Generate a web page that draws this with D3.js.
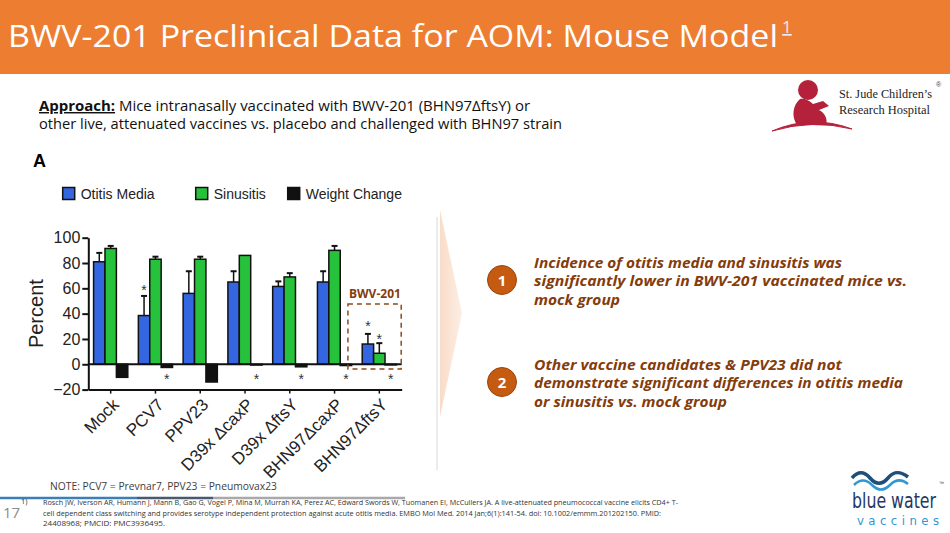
<!DOCTYPE html>
<html>
<head>
<meta charset="utf-8">
<script src="https://cdn.jsdelivr.net/npm/d3@7"></script>
<style>
  body { margin: 0; background: #fff; }
  svg { display: block; }
</style>
</head>
<body>
<div id="chart"></div>
<script>
// values (percent)
const groups = ["Mock", "PCV7", "PPV23", "D39x ΔcaxP", "D39x ΔftsY", "BHN97ΔcaxP", "BHN97ΔftsY"];
const seriesNames = ["Otitis Media", "Sinusitis", "Weight Change"];
const otitisMedia = [81, 38.5, 56, 65, 61.5, 65, 16];
const otitisErr = [7, 15.5, 17.5, 8.5, 4, 8.5, 8];
const sinusitis = [91.5, 83, 83, 86, 69, 90, 8.7];
const sinusitisErr = [2, 2, 2, 0, 3, 3.5, 8];
const weightChange = [-10.3, -2.5, -14, -0.6, -2, -1, -0.5];
const starOtitis = [null, 61, null, null, null, null, 33];
const starSinusitis = [null, null, null, null, null, null, 22];
const starWeight = [null, -9.5, null, -9.5, -9.5, -9.5, -9.5];
const yTicks = [-20, 0, 20, 40, 60, 80, 100];

const colors = { "Otitis Media": "#3366e0", "Sinusitis": "#27c23c", "Weight Change": "#111111" };

const W = 950, H = 533;
const svg = d3.select("#chart").append("svg").attr("width", W).attr("height", H);

// ---- header
svg.append("rect").attr("x", 0).attr("y", 0).attr("width", W).attr("height", 74).attr("fill", "#ed7d31");
svg.append("text")
  .attr("x", 8).attr("y", 47)
  .attr("font-family", "'Open Sans', sans-serif").attr("font-size", 31)
  .attr("fill", "#fff")
  .attr("textLength", 770).attr("lengthAdjust", "spacingAndGlyphs")
  .text("BWV-201 Preclinical Data for AOM: Mouse Model");
svg.append("text")
  .attr("x", 782).attr("y", 33)
  .attr("font-family", "'Open Sans', sans-serif").attr("font-size", 17)
  .attr("fill", "#e8ecf4").attr("text-decoration", "underline")
  .text("1");

// ---- approach text
const approach = svg.append("g").attr("font-family", "'Open Sans', sans-serif").attr("font-size", 14.5).attr("fill", "#111");
const l1 = approach.append("text").attr("x", 39).attr("y", 111)
  .attr("textLength", 491).attr("lengthAdjust", "spacingAndGlyphs");
l1.append("tspan").attr("font-weight", "bold").attr("text-decoration", "underline").text("Approach:");
l1.append("tspan").text(" Mice intranasally vaccinated with BWV-201 (BHN97ΔftsY) or");
approach.append("text").attr("x", 39).attr("y", 128.5)
  .attr("textLength", 523).attr("lengthAdjust", "spacingAndGlyphs")
  .text("other live, attenuated vaccines vs. placebo and challenged with BHN97 strain");

// ---- St. Jude logo
const sj = svg.append("g");
sj.append("circle").attr("cx", 808).attr("cy", 90).attr("r", 10).attr("fill", "#b5213a");
sj.append("path")
  .attr("d", "M800,99 C793,105 791,116 797,125 L826,125 C828,119 825,113 819,110 L829,106 L823,101 L813,104 C809,100 804,98 800,99 Z")
  .attr("fill", "#b5213a");
sj.append("path")
  .attr("d", "M772,131 Q812,114 852,129 Q812,119 772,131 Z")
  .attr("fill", "#b5213a").attr("stroke", "#b5213a").attr("stroke-width", 1);
sj.append("text").attr("x", 839).attr("y", 98)
  .attr("font-family", "'Liberation Serif', serif").attr("font-size", 13).attr("fill", "#222")
  .attr("textLength", 93).attr("lengthAdjust", "spacingAndGlyphs").text("St. Jude Children’s");
sj.append("text").attr("x", 839).attr("y", 114)
  .attr("font-family", "'Liberation Serif', serif").attr("font-size", 13).attr("fill", "#222")
  .attr("textLength", 91).attr("lengthAdjust", "spacingAndGlyphs").text("Research Hospital");
sj.append("text").attr("x", 936).attr("y", 87)
  .attr("font-family", "'Liberation Sans', sans-serif").attr("font-size", 7).attr("fill", "#444").text("®");

// ---- chart
const x0 = d3.scaleBand().domain(groups).range([88.3, 401.7]);
const barW = 11.4;
const x1 = d3.scaleBand().domain(seriesNames)
  .range([(x0.bandwidth() - 3 * barW) / 2, (x0.bandwidth() + 3 * barW) / 2]);
const y = d3.scaleLinear().domain([-20, 100]).range([389.6, 237.7]);

const chart = svg.append("g");

chart.append("text").attr("x", 33).attr("y", 166.5)
  .attr("font-family", "'Liberation Sans', Arial, sans-serif").attr("font-weight", "bold").attr("font-size", 18)
  .text("A");

// legend
const legendX = [62.7, 195.7, 287.7];
const legend = chart.append("g").attr("font-family", "'Liberation Sans', Arial, sans-serif").attr("font-size", 14);
seriesNames.forEach((s, i) => {
  legend.append("rect").attr("x", legendX[i]).attr("y", 187.5).attr("width", 12).attr("height", 12)
    .attr("fill", colors[s]).attr("stroke", "#111").attr("stroke-width", 1.5);
  legend.append("text").attr("x", legendX[i] + 18).attr("y", 198.5).attr("fill", "#222").text(s);
});

// y axis
const yAxis = chart.append("g").attr("transform", "translate(88.3,0)")
  .call(d3.axisLeft(y).tickValues(yTicks).tickSize(6).tickSizeOuter(0).tickPadding(2));
yAxis.selectAll("path, line").attr("stroke", "#111").attr("stroke-width", 2);
yAxis.selectAll("text").attr("font-family", "'Liberation Sans', Arial, sans-serif").attr("font-size", 16).attr("fill", "#222");

// x axis
const xAxis = chart.append("g").attr("transform", `translate(0,${y(-20)})`)
  .call(d3.axisBottom(x0).tickSize(4).tickSizeOuter(0));
xAxis.select("path").attr("stroke", "#111").attr("stroke-width", 2);
xAxis.selectAll("line").attr("stroke", "#111").attr("stroke-width", 1.5);
xAxis.selectAll("text")
  .attr("font-family", "'Liberation Sans', Arial, sans-serif").attr("font-size", 17).attr("fill", "#222")
  .attr("text-anchor", "end")
  .attr("x", 0).attr("y", 0).attr("dy", "0.35em")
  .attr("transform", "translate(5,12) rotate(-45)");

chart.append("text")
  .attr("transform", `translate(43,${y(40)}) rotate(-90)`)
  .attr("text-anchor", "middle")
  .attr("font-family", "'Liberation Sans', Arial, sans-serif").attr("font-size", 20).attr("fill", "#222")
  .text("Percent");

// bars
const rows = groups.map((g, i) => ({
  group: g,
  bars: [
    { s: "Otitis Media", v: otitisMedia[i], e: otitisErr[i], star: starOtitis[i] },
    { s: "Sinusitis", v: sinusitis[i], e: sinusitisErr[i], star: starSinusitis[i] },
    { s: "Weight Change", v: weightChange[i], e: 0, star: starWeight[i] }
  ]
}));

const gGroup = chart.selectAll(".grp").data(rows).enter().append("g")
  .attr("class", "grp")
  .attr("transform", d => `translate(${x0(d.group)},0)`);

const gBar = gGroup.selectAll(".bar").data(d => d.bars).enter().append("g").attr("class", "bar");

// error bars (upper side only)
gBar.filter(d => d.e > 0).append("line")
  .attr("x1", d => x1(d.s) + barW / 2).attr("x2", d => x1(d.s) + barW / 2)
  .attr("y1", d => y(d.v)).attr("y2", d => y(d.v + d.e))
  .attr("stroke", "#111").attr("stroke-width", 1.5);
gBar.filter(d => d.e > 0).append("line")
  .attr("x1", d => x1(d.s) + barW / 2 - 3).attr("x2", d => x1(d.s) + barW / 2 + 3)
  .attr("y1", d => y(d.v + d.e)).attr("y2", d => y(d.v + d.e))
  .attr("stroke", "#111").attr("stroke-width", 2);

gBar.append("rect")
  .attr("x", d => x1(d.s)).attr("width", barW)
  .attr("y", d => y(Math.max(0, d.v)))
  .attr("height", d => Math.abs(y(d.v) - y(0)))
  .attr("fill", d => colors[d.s])
  .attr("stroke", "#111").attr("stroke-width", 1.5);

gBar.filter(d => d.star !== null).append("text")
  .attr("x", d => x1(d.s) + barW / 2)
  .attr("y", d => y(d.star) + 8)
  .attr("text-anchor", "middle")
  .attr("font-family", "'Liberation Sans', Arial, sans-serif").attr("font-size", 14).attr("fill", "#333")
  .text("*");

// zero line
chart.append("line").attr("x1", 88.3).attr("x2", 401.7).attr("y1", y(0)).attr("y2", y(0))
  .attr("stroke", "#111").attr("stroke-width", 2);

// BWV-201 highlight
const last = groups[groups.length - 1];
chart.append("rect")
  .attr("x", x0(last) - 9).attr("y", 304)
  .attr("width", x0.bandwidth() + 8.5).attr("height", 65)
  .attr("fill", "none").attr("stroke", "#8b4a1e").attr("stroke-width", 1.5)
  .attr("stroke-dasharray", "5,4");
chart.append("text")
  .attr("x", x0(last) + 18).attr("y", 298)
  .attr("text-anchor", "middle")
  .attr("font-family", "'Open Sans', sans-serif").attr("font-weight", "bold").attr("font-size", 12)
  .attr("fill", "#843c0c").text("BWV-201");

// faint image border
svg.append("line").attr("x1", 437).attr("x2", 437).attr("y1", 217).attr("y2", 470)
  .attr("stroke", "#e4e4e4").attr("stroke-width", 1.5);

// ---- chevron
const defs = svg.append("defs");
const grad = defs.append("linearGradient").attr("id", "chev").attr("x1", "0").attr("x2", "1").attr("y1", "0").attr("y2", "0");
grad.append("stop").attr("offset", "0").attr("stop-color", "#f9dcc8");
grad.append("stop").attr("offset", "1").attr("stop-color", "#fdeee4");
svg.append("path").attr("d", "M440,210 L462,313 L440,417 Z").attr("fill", "url(#chev)");

// ---- findings
const findings = [
  { n: "1", cy: 280, lines: [
    ["Incidence of otitis media and sinusitis was", 308],
    ["significantly lower in BWV-201 vaccinated mice vs.", 373],
    ["mock group", 86]] },
  { n: "2", cy: 382, lines: [
    ["Other vaccine candidates & PPV23 did not", 308],
    ["demonstrate significant differences in otitis media", 369],
    ["or sinusitis vs. mock group", 193]] }
];
findings.forEach(f => {
  svg.append("circle").attr("cx", 502).attr("cy", f.cy).attr("r", 14.5)
    .attr("fill", "#c55a11").attr("stroke", "#9c440c").attr("stroke-width", 1);
  svg.append("text").attr("x", 502).attr("y", f.cy + 5.5).attr("text-anchor", "middle")
    .attr("font-family", "'Open Sans', sans-serif").attr("font-weight", "bold").attr("font-size", 15)
    .attr("fill", "#fff").text(f.n);
  f.lines.forEach((ln, i) => {
    svg.append("text").attr("x", 534).attr("y", f.cy - 12 + i * 18.3)
      .attr("font-family", "'Open Sans', sans-serif").attr("font-weight", "bold").attr("font-style", "italic")
      .attr("font-size", 15).attr("fill", "#843c0c")
      .attr("textLength", ln[1]).attr("lengthAdjust", "spacingAndGlyphs")
      .text(ln[0]);
  });
});

// ---- footer
svg.append("text").attr("x", 50).attr("y", 490)
  .attr("font-family", "'Open Sans', sans-serif").attr("font-size", 11).attr("fill", "#404040")
  .attr("textLength", 227).attr("lengthAdjust", "spacingAndGlyphs")
  .text("NOTE: PCV7 = Prevnar7, PPV23 = Pneumovax23");

const divider = [[0, 137, "#3c7fb8"], [137, 213, "#485a70"], [213, 405, "#a9a9a9"]];
divider.forEach(d => {
  svg.append("line").attr("x1", d[0]).attr("x2", d[1]).attr("y1", 498).attr("y2", 498)
    .attr("stroke", d[2]).attr("stroke-width", 2.5);
});

svg.append("text").attr("x", 3).attr("y", 518)
  .attr("font-family", "'Open Sans', sans-serif").attr("font-size", 15).attr("fill", "#8c8c8c").text("17");

const refLines = [
  ["Rosch JW, Iverson AR, Humann J, Mann B, Gao G, Vogel P, Mina M, Murrah KA, Perez AC, Edward Swords W, Tuomanen EI, McCullers JA. A live-attenuated pneumococcal vaccine elicits CD4+ T-", 635],
  ["cell dependent class switching and provides serotype independent protection against acute otitis media. EMBO Mol Med. 2014 Jan;6(1):141-54. doi: 10.1002/emmm.201202150. PMID:", 618],
  ["24408968; PMCID: PMC3936495.", 122]
];
const ref = svg.append("g").attr("font-family", "'Open Sans', sans-serif").attr("font-size", 7.5).attr("fill", "#333");
ref.append("text").attr("x", 21).attr("y", 504).text("1)");
refLines.forEach((r, i) => {
  ref.append("text").attr("x", 43).attr("y", 505 + i * 10.5)
    .attr("textLength", r[1]).attr("lengthAdjust", "spacingAndGlyphs").text(r[0]);
});

// ---- blue water vaccines logo
const bw = svg.append("g");
bw.append("path")
  .attr("d", "M852,478 C858,471 864,471 870,478 C876,485 882,485 888,478 C894,471 900,471 908,477")
  .attr("fill", "none").attr("stroke", "#1f4e79").attr("stroke-width", 3.5);
bw.append("path")
  .attr("d", "M854,485 C860,479 866,479 872,485 C878,491 884,491 890,485 C896,479 902,479 908,484")
  .attr("fill", "none").attr("stroke", "#2f97d2").attr("stroke-width", 2.5);
bw.append("text").attr("x", 852).attr("y", 508)
  .attr("font-family", "'Liberation Sans Narrow', 'DejaVu Sans Condensed', sans-serif").attr("font-size", 22)
  .attr("fill", "#1f3864").attr("textLength", 84).attr("lengthAdjust", "spacingAndGlyphs")
  .text("blue water");
bw.append("text").attr("x", 939).attr("y", 485)
  .attr("font-family", "'Liberation Sans', sans-serif").attr("font-size", 5).attr("fill", "#1f3864").text("™");
bw.append("text").attr("x", 857).attr("y", 525)
  .attr("font-family", "'Liberation Sans Narrow', 'DejaVu Sans Condensed', sans-serif").attr("font-size", 13)
  .attr("fill", "#2f97d2").attr("textLength", 82).attr("lengthAdjust", "spacing")
  .text("vaccines");
</script>
</body>
</html>
